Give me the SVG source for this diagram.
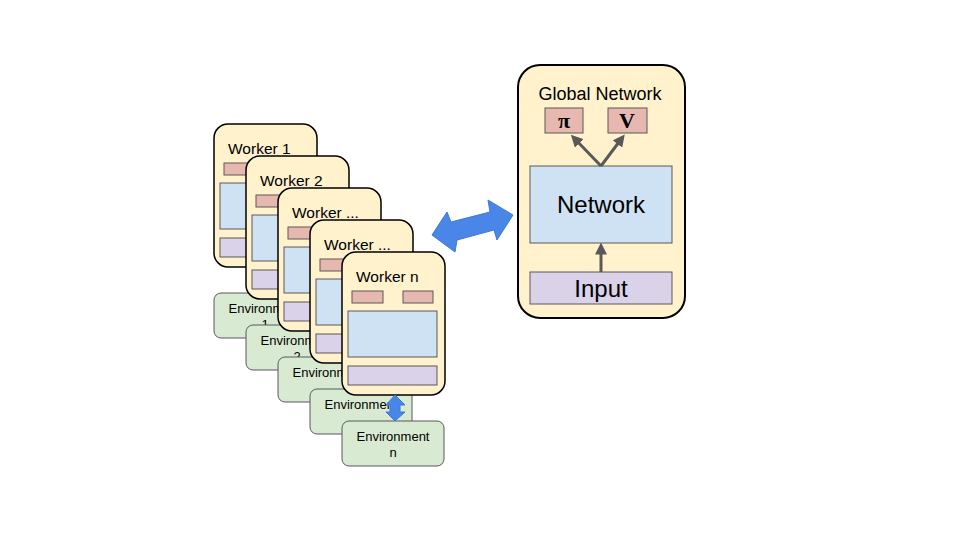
<svg xmlns="http://www.w3.org/2000/svg" width="960" height="540" viewBox="0 0 960 540">
<style>
.card{fill:#fff2cc;stroke:#000;stroke-width:1.5}
.red{fill:#e6b8af;stroke:#595959;stroke-width:1}
.blue{fill:#cfe2f3;stroke:#595959;stroke-width:1}
.purple{fill:#d9d2e9;stroke:#595959;stroke-width:1}
.env{fill:#d9ead3;stroke:#595959;stroke-width:1}
.wt{font-family:"Liberation Sans",Arial,sans-serif;font-size:15.5px;fill:#000}
.et{font-family:"Liberation Sans",Arial,sans-serif;font-size:13px;fill:#000;text-anchor:middle}
.big{font-family:"Liberation Sans",Arial,sans-serif;font-size:24px;fill:#000;text-anchor:middle}
.sym{font-family:"Liberation Serif","Times New Roman",serif;font-weight:bold;font-size:22px;fill:#000;text-anchor:middle}
.barrow{fill:#4a86e8;stroke:#3c78d8;stroke-width:1}
.conn{stroke:#595959;stroke-width:3;fill:none}
</style>
<defs>
<marker id="ah" markerWidth="4" markerHeight="4" refX="2.5" refY="2" orient="auto" markerUnits="strokeWidth">
<path d="M0,0 L4,2 L0,4 z" fill="#595959"/>
</marker>
</defs>
<rect width="960" height="540" fill="#fff"/>

<g id="worker1">
<rect class="card" x="214" y="124" width="103" height="143" rx="14"/>
<text class="wt" x="228" y="154">Worker 1</text>
<rect class="red" x="224" y="163" width="31" height="12"/>
<rect class="red" x="275" y="163" width="30" height="12"/>
<rect class="blue" x="220" y="183" width="89" height="46"/>
<rect class="purple" x="220" y="238" width="89" height="19"/>
</g>
<g id="env1">
<rect class="env" x="214" y="293" width="102" height="45" rx="7"/>
<text class="et" x="265" y="313">Environment</text>
<text class="et" x="265" y="329">1</text>
</g>
<g id="worker2">
<rect class="card" x="246" y="156" width="103" height="143" rx="14"/>
<text class="wt" x="260" y="186">Worker 2</text>
<rect class="red" x="256" y="195" width="31" height="12"/>
<rect class="red" x="307" y="195" width="30" height="12"/>
<rect class="blue" x="252" y="215" width="89" height="46"/>
<rect class="purple" x="252" y="270" width="89" height="19"/>
</g>
<g id="env2">
<rect class="env" x="246" y="325" width="102" height="45" rx="7"/>
<text class="et" x="297" y="345">Environment</text>
<text class="et" x="297" y="361">2</text>
</g>
<g id="worker3">
<rect class="card" x="278" y="188" width="103" height="143" rx="14"/>
<text class="wt" x="292" y="218">Worker ...</text>
<rect class="red" x="288" y="227" width="31" height="12"/>
<rect class="red" x="339" y="227" width="30" height="12"/>
<rect class="blue" x="284" y="247" width="89" height="46"/>
<rect class="purple" x="284" y="302" width="89" height="19"/>
</g>
<g id="env3">
<rect class="env" x="278" y="357" width="102" height="45" rx="7"/>
<text class="et" x="329" y="377">Environment</text>
<text class="et" x="329" y="393">...</text>
</g>
<g id="worker4">
<rect class="card" x="310" y="220" width="103" height="143" rx="14"/>
<text class="wt" x="324" y="250">Worker ...</text>
<rect class="red" x="320" y="259" width="31" height="12"/>
<rect class="red" x="371" y="259" width="30" height="12"/>
<rect class="blue" x="316" y="279" width="89" height="46"/>
<rect class="purple" x="316" y="334" width="89" height="19"/>
</g>
<g id="env4">
<rect class="env" x="310" y="389" width="102" height="45" rx="7"/>
<text class="et" x="361" y="409">Environment</text>
<text class="et" x="361" y="425">...</text>
</g>
<g id="workern">
<rect class="card" x="342" y="252" width="103" height="143" rx="14"/>
<text class="wt" x="356" y="282">Worker n</text>
<rect class="red" x="352" y="291" width="31" height="12"/>
<rect class="red" x="403" y="291" width="30" height="12"/>
<rect class="blue" x="348" y="311" width="89" height="46"/>
<rect class="purple" x="348" y="366" width="89" height="19"/>
</g>
<g id="envn">
<rect class="env" x="342" y="421" width="102" height="45" rx="7"/>
<text class="et" x="393" y="441">Environment</text>
<text class="et" x="393" y="457">n</text>
</g>

<g id="global">
<rect class="card" x="518" y="65" width="167" height="253" rx="22" style="stroke-width:2"/>
<text x="600" y="100" style="font-family:'Liberation Sans',Arial,sans-serif;font-size:18px;text-anchor:middle">Global Network</text>
<g id="pi">
<rect class="red" x="545" y="108" width="38" height="25"/>
<text class="sym" x="564" y="128">π</text>
</g>
<g id="v">
<rect class="red" x="608" y="108" width="39" height="25"/>
<text class="sym" x="627" y="128">V</text>
</g>
<g id="network">
<rect class="blue" x="530" y="166" width="142" height="77"/>
<text class="big" x="601" y="213">Network</text>
</g>
<g id="input">
<rect class="purple" x="530" y="272" width="142" height="32"/>
<text class="big" x="601" y="297">Input</text>
</g>
</g>

<g id="connectors">
<line class="conn" x1="601" y1="166" x2="574" y2="138" marker-end="url(#ah)"/>
<line class="conn" x1="601" y1="166" x2="622" y2="138" marker-end="url(#ah)"/>
<line class="conn" x1="601" y1="272" x2="601" y2="247" marker-end="url(#ah)"/>
<polygon class="barrow" points="432,235 447,212 451,222 490,212 488,200 513,215 497,240 494,230 457,240 455,252"/>
<polygon class="barrow" points="395,395 405,405 400,405 400,412 405,412 395,421 386,412 390,412 390,405 386,405"/>
</g>
</svg>
